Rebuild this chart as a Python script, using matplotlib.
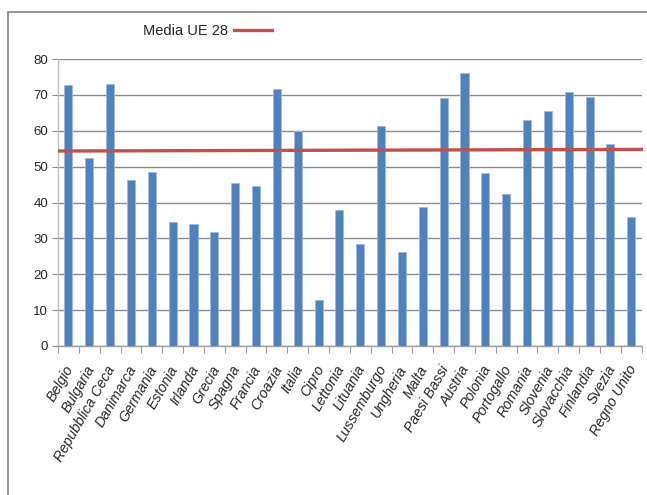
import matplotlib
matplotlib.use("Agg")
import matplotlib.pyplot as plt
import matplotlib.transforms as mtransforms
from matplotlib.lines import Line2D
from matplotlib.patches import Rectangle

plt.rcParams['font.family'] = ['Liberation Sans', 'DejaVu Sans']

countries = ["Belgio", "Bulgaria", "Repubblica Ceca", "Danimarca", "Germania", "Estonia",
             "Irlanda", "Grecia", "Spagna", "Francia", "Croazia", "Italia", "Cipro",
             "Lettonia", "Lituania", "Lussemburgo", "Ungheria", "Malta", "Paesi Bassi",
             "Austria", "Polonia", "Portogallo", "Romania", "Slovenia", "Slovacchia",
             "Finlandia", "Svezia", "Regno Unito"]
values = [72.8, 52.3, 73.0, 46.2, 48.6, 34.5, 34.0, 31.8, 45.4, 44.7, 71.5, 60.0, 12.8,
          37.8, 28.3, 61.4, 26.2, 38.8, 69.0, 76.1, 48.3, 42.5, 62.9, 65.4, 70.7,
          69.5, 56.3, 36.0]
media_label = "Media UE 28"
media_ue = [54.35, 54.8]   # left end, right end of the average line
yticks = [0, 10, 20, 30, 40, 50, 60, 70, 80]

BAR = "#4F81BD"
RED = "#C0504D"

fig = plt.figure(figsize=(6.47, 4.95), dpi=100)
ax = fig.add_axes([58/647, 1-346/495, (641.7-58)/647, (346-59)/495])

x = list(range(len(countries)))
ax.bar(x, values, width=0.39, color=BAR, edgecolor="#9dbbe0", linewidth=0.6, zorder=3)

ax.plot([-0.5, len(countries) - 0.44], media_ue, color=RED, lw=2.4, zorder=4,
        clip_on=False, solid_capstyle='butt')

ax.set_xlim(-0.5, len(countries) - 0.5)
ax.set_ylim(0, 80)
ax.set_yticks(yticks)
ax.set_yticklabels([str(v) for v in yticks], fontsize=9.5)
ax.yaxis.grid(True, color="#8c8c8c", lw=1.0, zorder=0)
ax.set_axisbelow(True)

# category labels
ax.set_xticks(x)
ax.set_xticklabels([])
ax.tick_params(axis='x', which='major', length=0)
lab_tr = ax.get_xaxis_transform() + mtransforms.ScaledTranslation(-4/100, -17/100,
                                                                  fig.dpi_scale_trans)
for xi, name in zip(x, countries):
    ax.text(xi, 0, name, transform=lab_tr, rotation=60, ha='right', va='top',
            rotation_mode='anchor', fontstyle='italic', fontsize=10.3, color="#262626")

ax.set_xticks([i - 0.5 for i in range(len(countries) + 1)], minor=True)
ax.tick_params(axis='x', which='minor', length=5, color="#a0a0a0", width=0.8)
ax.tick_params(axis='y', length=4, color="#8c8c8c", width=0.8, pad=3, labelcolor="#262626")

for s in ['top', 'right']:
    ax.spines[s].set_visible(False)
ax.spines['left'].set_color("#c0c0c0")
ax.spines['bottom'].set_color("#a0a0a0")
ax.spines['left'].set_linewidth(1.0)
ax.spines['bottom'].set_linewidth(1.0)

handle = Line2D([], [], color=RED, lw=2.4)
leg = fig.legend([handle], [media_label], loc='center left',
                 bbox_to_anchor=(130/647, 1 - 31/495), frameon=False, markerfirst=False,
                 fontsize=10.5, handlelength=2.6, handletextpad=0.4, borderpad=0.4)
for t in leg.get_texts():
    t.set_color("#262626")

fig.patches.append(Rectangle((8/647, -0.2), 1.2, 1.2 - 12/495, fill=False,
                             edgecolor="#8c8c8c", lw=1.3, transform=fig.transFigure))

fig.savefig("out.png", dpi=100, facecolor="white")
